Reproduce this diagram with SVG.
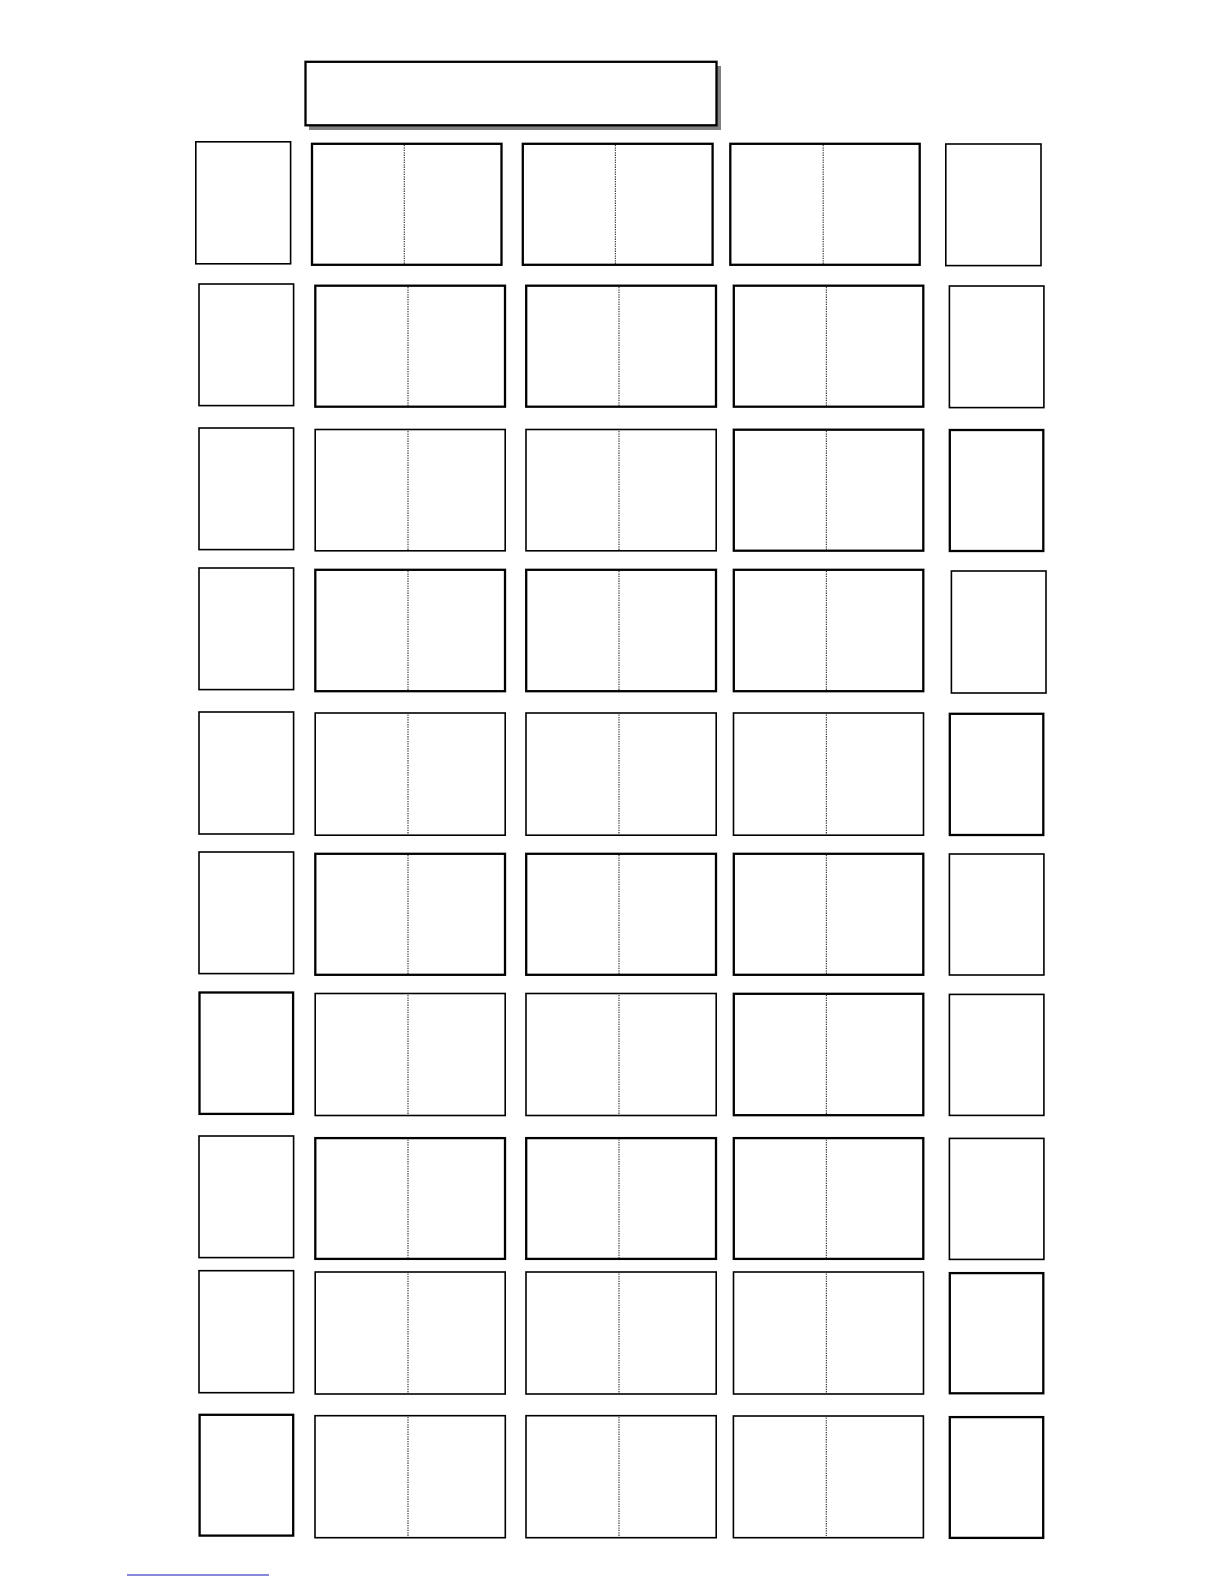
<svg xmlns="http://www.w3.org/2000/svg" width="1224" height="1584" viewBox="0 0 1224 1584">
<style>
.bg{fill:#ffffff}
.box{fill:#ffffff;stroke:#000000;stroke-width:1.6}
.tk{stroke-width:2.3}
.dot{stroke:#3a3a3a;stroke-width:1.2;stroke-dasharray:1.3 1.1;fill:none}
.shadow{fill:#808080}
</style>
<rect class="bg" x="0" y="0" width="1224" height="1584"/>

<g id="title">
<rect class="shadow" x="309" y="66" width="412" height="64"/>
<rect class="box tk" x="305.5" y="61.8" width="411" height="63.5"/>
</g>

<!-- Row 1 -->
<g id="r1-left"><rect class="box" x="195.8" y="141.8" width="94.8" height="122"/></g>
<g id="r1-m1"><rect class="box tk" x="312" y="143.8" width="189.5" height="121"/><line class="dot" x1="404.3" y1="145" x2="404.3" y2="264"/></g>
<g id="r1-m2"><rect class="box tk" x="522.8" y="143.8" width="189.8" height="121"/><line class="dot" x1="615.4" y1="145" x2="615.4" y2="264"/></g>
<g id="r1-m3"><rect class="box tk" x="730.3" y="143.8" width="189.4" height="121"/><line class="dot" x1="823.2" y1="145" x2="823.2" y2="264"/></g>
<g id="r1-right"><rect class="box" x="945.8" y="144" width="95.2" height="121.6"/></g>

<!-- Row 2 -->
<g id="r2-left"><rect class="box" x="199" y="284" width="94.6" height="121.6"/></g>
<g id="r2-m1"><rect class="box tk" x="315.3" y="285.7" width="189.7" height="121"/><line class="dot" x1="408" y1="287" x2="408" y2="406"/></g>
<g id="r2-m2"><rect class="box tk" x="526.2" y="285.7" width="189.8" height="121"/><line class="dot" x1="619" y1="287" x2="619" y2="406"/></g>
<g id="r2-m3"><rect class="box tk" x="733.8" y="285.7" width="189.5" height="121"/><line class="dot" x1="826.4" y1="287" x2="826.4" y2="406"/></g>
<g id="r2-right"><rect class="box" x="949.4" y="286" width="94.5" height="121.6"/></g>

<!-- Row 3 -->
<g id="r3-left"><rect class="box" x="199" y="428" width="94.6" height="121.6"/></g>
<g id="r3-m1"><rect class="box" x="315.2" y="429.5" width="190" height="121.3"/><line class="dot" x1="408" y1="431" x2="408" y2="550"/></g>
<g id="r3-m2"><rect class="box" x="526" y="429.5" width="190.2" height="121.3"/><line class="dot" x1="619" y1="431" x2="619" y2="550"/></g>
<g id="r3-m3"><rect class="box tk" x="733.8" y="429.7" width="189.5" height="121"/><line class="dot" x1="826.4" y1="431" x2="826.4" y2="550"/></g>
<g id="r3-right"><rect class="box tk" x="949.8" y="430" width="93.5" height="121"/></g>

<!-- Row 4 -->
<g id="r4-left"><rect class="box" x="199" y="568" width="94.6" height="121.6"/></g>
<g id="r4-m1"><rect class="box tk" x="315.3" y="569.8" width="189.7" height="121.4"/><line class="dot" x1="408" y1="571" x2="408" y2="690"/></g>
<g id="r4-m2"><rect class="box tk" x="526.2" y="569.8" width="189.8" height="121.4"/><line class="dot" x1="619" y1="571" x2="619" y2="690"/></g>
<g id="r4-m3"><rect class="box tk" x="733.8" y="569.8" width="189.5" height="121.4"/><line class="dot" x1="826.4" y1="571" x2="826.4" y2="690"/></g>
<g id="r4-right"><rect class="box" x="951.4" y="571" width="94.6" height="122"/></g>

<!-- Row 5 -->
<g id="r5-left"><rect class="box" x="199" y="712" width="94.6" height="122"/></g>
<g id="r5-m1"><rect class="box" x="315.2" y="713" width="190" height="122.2"/><line class="dot" x1="408" y1="714.5" x2="408" y2="834"/></g>
<g id="r5-m2"><rect class="box" x="526" y="713" width="190.2" height="122.2"/><line class="dot" x1="619" y1="714.5" x2="619" y2="834"/></g>
<g id="r5-m3"><rect class="box" x="733.5" y="713" width="190" height="122.2"/><line class="dot" x1="826.4" y1="714.5" x2="826.4" y2="834"/></g>
<g id="r5-right"><rect class="box tk" x="949.8" y="713.8" width="93.5" height="121.2"/></g>

<!-- Row 6 -->
<g id="r6-left"><rect class="box" x="199" y="852" width="94.6" height="121.6"/></g>
<g id="r6-m1"><rect class="box tk" x="315.3" y="853.8" width="189.7" height="121"/><line class="dot" x1="408" y1="855" x2="408" y2="974"/></g>
<g id="r6-m2"><rect class="box tk" x="526.2" y="853.8" width="189.8" height="121"/><line class="dot" x1="619" y1="855" x2="619" y2="974"/></g>
<g id="r6-m3"><rect class="box tk" x="733.8" y="853.8" width="189.5" height="121"/><line class="dot" x1="826.4" y1="855" x2="826.4" y2="974"/></g>
<g id="r6-right"><rect class="box" x="949.4" y="854" width="94.5" height="121"/></g>

<!-- Row 7 -->
<g id="r7-left"><rect class="box tk" x="199.5" y="992.5" width="93.6" height="121.4"/></g>
<g id="r7-m1"><rect class="box" x="315.2" y="993.5" width="190" height="122"/><line class="dot" x1="408" y1="995" x2="408" y2="1114"/></g>
<g id="r7-m2"><rect class="box" x="526" y="993.5" width="190.2" height="122"/><line class="dot" x1="619" y1="995" x2="619" y2="1114"/></g>
<g id="r7-m3"><rect class="box tk" x="733.8" y="993.8" width="189.5" height="121.4"/><line class="dot" x1="826.4" y1="995" x2="826.4" y2="1114"/></g>
<g id="r7-right"><rect class="box" x="949.4" y="994.4" width="94.5" height="121"/></g>

<!-- Row 8 -->
<g id="r8-left"><rect class="box" x="199" y="1136" width="94.6" height="121.6"/></g>
<g id="r8-m1"><rect class="box tk" x="315.3" y="1138.1" width="189.7" height="120.8"/><line class="dot" x1="408" y1="1139.5" x2="408" y2="1258"/></g>
<g id="r8-m2"><rect class="box tk" x="526.2" y="1138.1" width="189.8" height="120.8"/><line class="dot" x1="619" y1="1139.5" x2="619" y2="1258"/></g>
<g id="r8-m3"><rect class="box tk" x="733.8" y="1138.1" width="189.5" height="120.8"/><line class="dot" x1="826.4" y1="1139.5" x2="826.4" y2="1258"/></g>
<g id="r8-right"><rect class="box" x="949.4" y="1138.4" width="94.5" height="121"/></g>

<!-- Row 9 -->
<g id="r9-left"><rect class="box" x="199" y="1270.7" width="94.6" height="122"/></g>
<g id="r9-m1"><rect class="box" x="315.2" y="1272" width="190" height="122"/><line class="dot" x1="408" y1="1273.5" x2="408" y2="1393"/></g>
<g id="r9-m2"><rect class="box" x="526" y="1272" width="190.2" height="122"/><line class="dot" x1="619" y1="1273.5" x2="619" y2="1393"/></g>
<g id="r9-m3"><rect class="box" x="733.5" y="1272" width="190" height="122"/><line class="dot" x1="826.4" y1="1273.5" x2="826.4" y2="1393"/></g>
<g id="r9-right"><rect class="box tk" x="949.8" y="1273.1" width="93.5" height="120.2"/></g>

<!-- Row 10 -->
<g id="r10-left"><rect class="box tk" x="199.6" y="1414.8" width="93.6" height="120.8"/></g>
<g id="r10-m1"><rect class="box" x="315" y="1415.7" width="190.3" height="122"/><line class="dot" x1="408" y1="1417" x2="408" y2="1536"/></g>
<g id="r10-m2"><rect class="box" x="526" y="1415.7" width="190.2" height="122"/><line class="dot" x1="619" y1="1417" x2="619" y2="1536"/></g>
<g id="r10-m3"><rect class="box" x="733.4" y="1416" width="190" height="121.7"/><line class="dot" x1="826.3" y1="1417.5" x2="826.3" y2="1536"/></g>
<g id="r10-right"><rect class="box tk" x="949.8" y="1417.1" width="93.4" height="120.8"/></g>

<g id="footnote-rule">
<line x1="127" y1="1575" x2="269" y2="1575" stroke="#1010b8" stroke-width="1"/>
</g>
</svg>
